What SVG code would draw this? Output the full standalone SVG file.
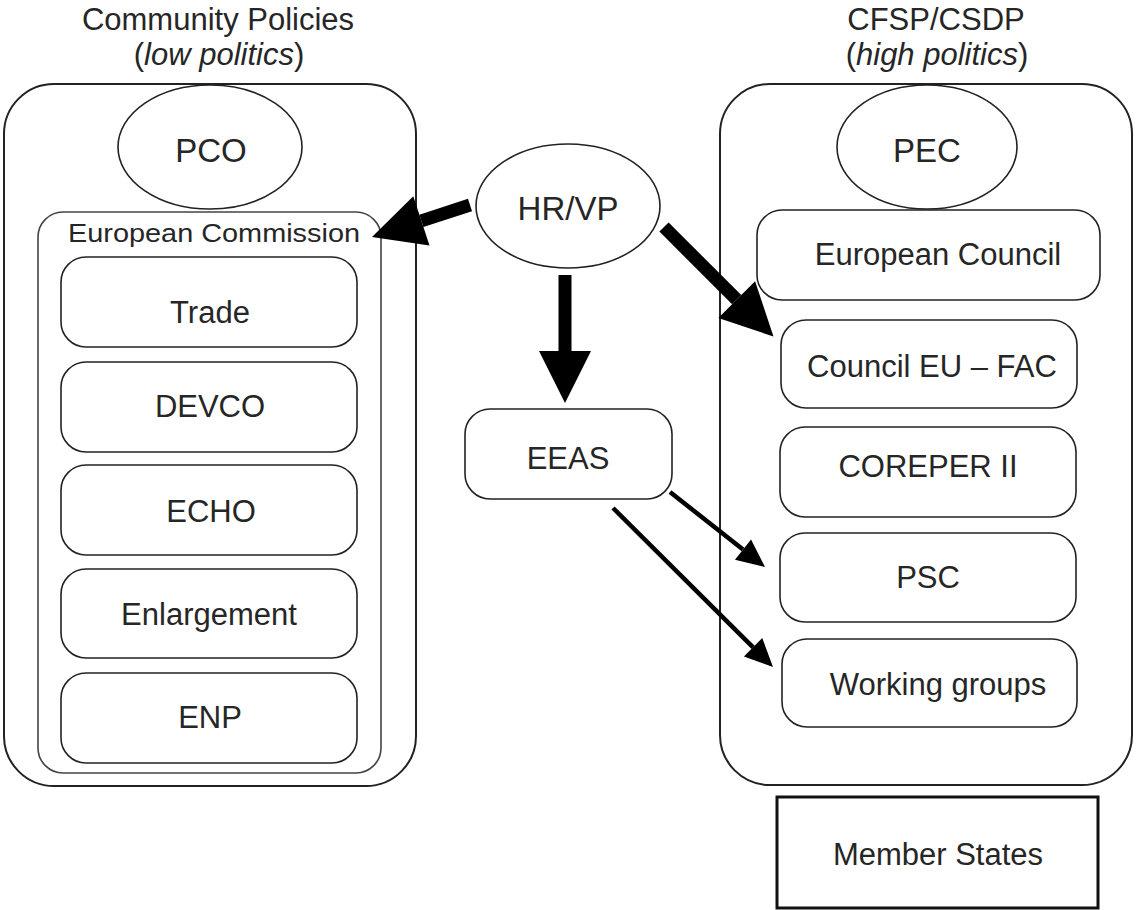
<svg xmlns="http://www.w3.org/2000/svg" width="1136" height="910" viewBox="0 0 1136 910">
<style>
  text { font-family: "Liberation Sans", Arial, sans-serif; fill: #262626; text-anchor: middle; }
  .title { font-size: 31px; }
  .lbl { font-size: 31px; }
  .big { font-size: 33px; }
  .outer { fill: #fff; stroke: #222; stroke-width: 2; }
  .inner { fill: #fff; stroke: #444; stroke-width: 1.6; }
  .box { fill: #fff; stroke: #222; stroke-width: 1.6; }
  .ell { fill: #fff; stroke: #222; stroke-width: 1.6; }
  .thick { stroke: #000; stroke-width: 13; fill: none; marker-end: url(#headBig); }
  .thin { stroke: #000; stroke-width: 4.5; fill: none; marker-end: url(#headSmall); }
</style>
<defs>
  <marker id="headBig" markerUnits="userSpaceOnUse" markerWidth="52" markerHeight="52" refX="0" refY="26" orient="auto" overflow="visible">
    <path d="M0,0 L52,26 L0,52 z" fill="#000"/>
  </marker>
  <marker id="headSmall" markerUnits="userSpaceOnUse" markerWidth="28" markerHeight="26" refX="0" refY="13" orient="auto" overflow="visible">
    <path d="M0,0 L28,13 L0,26 z" fill="#000"/>
  </marker>
</defs>
<rect width="1136" height="910" fill="#fff"/>

<g id="titles">
  <text class="title" x="218" y="30">Community Policies</text>
  <text class="title" x="219" y="65">(<tspan font-style="italic">low politics</tspan>)</text>
  <text class="title" x="936" y="30">CFSP/CSDP</text>
  <text class="title" x="937" y="65">(<tspan font-style="italic">high politics</tspan>)</text>
</g>

<g id="community-policies">
  <rect class="outer" x="4" y="84" width="412" height="702" rx="50"/>
</g>
<g id="pco">
  <ellipse class="ell" cx="210" cy="147" rx="92" ry="62"/>
  <text class="big" x="211" y="162">PCO</text>
</g>
<g id="european-commission">
  <rect class="inner" x="38" y="212" width="343" height="561" rx="25"/>
  <text x="214" y="242" font-size="26px" textLength="292" lengthAdjust="spacingAndGlyphs">European Commission</text>
</g>
<g id="trade">
  <rect class="box" x="61" y="257" width="296" height="90" rx="25"/>
  <text class="lbl" x="210" y="323">Trade</text>
</g>
<g id="devco">
  <rect class="box" x="61" y="362" width="296" height="90" rx="25"/>
  <text class="lbl" x="210" y="417">DEVCO</text>
</g>
<g id="echo">
  <rect class="box" x="61" y="465" width="296" height="90" rx="25"/>
  <text class="lbl" x="211" y="522">ECHO</text>
</g>
<g id="enlargement">
  <rect class="box" x="61" y="569" width="296" height="89" rx="25"/>
  <text class="lbl" x="209" y="625">Enlargement</text>
</g>
<g id="enp">
  <rect class="box" x="61" y="673" width="296" height="90" rx="25"/>
  <text class="lbl" x="210" y="728">ENP</text>
</g>

<g id="cfsp-csdp">
  <rect class="outer" x="720" y="84" width="412" height="701" rx="50"/>
</g>
<g id="pec">
  <ellipse class="ell" cx="927" cy="147" rx="90" ry="62"/>
  <text class="big" x="927" y="162">PEC</text>
</g>
<g id="european-council">
  <rect class="box" x="757" y="210" width="343" height="90" rx="25"/>
  <text class="lbl" x="938" y="265">European Council</text>
</g>
<g id="council-eu-fac">
  <rect class="box" x="781" y="320" width="296" height="88" rx="25"/>
  <text class="lbl" x="932" y="377">Council EU – FAC</text>
</g>
<g id="coreper-ii">
  <rect class="box" x="780" y="427" width="296" height="90" rx="25"/>
  <text class="lbl" x="928" y="477">COREPER II</text>
</g>
<g id="psc">
  <rect class="box" x="780" y="533" width="296" height="89" rx="25"/>
  <text class="lbl" x="928" y="588">PSC</text>
</g>
<g id="working-groups">
  <rect class="box" x="782" y="639" width="295" height="88" rx="25"/>
  <text class="lbl" x="938" y="695">Working groups</text>
</g>
<g id="member-states">
  <rect x="777" y="797" width="321" height="111" fill="#fff" stroke="#111" stroke-width="3"/>
  <text class="lbl" x="938" y="865">Member States</text>
</g>

<g id="hr-vp">
  <ellipse class="ell" cx="568" cy="206" rx="92" ry="62"/>
  <text class="big" x="568" y="220">HR/VP</text>
</g>
<g id="eeas">
  <rect class="box" x="465" y="409" width="207" height="90" rx="25"/>
  <text class="lbl" x="568" y="469">EEAS</text>
</g>

<g id="connectors">
  <line class="thick" x1="470" y1="205" x2="421.4" y2="220.9"/>
  <line class="thick" x1="565" y1="275" x2="565" y2="351"/>
  <line class="thick" x1="664" y1="227" x2="736.7" y2="299.7" stroke-width="15"/>
  <line class="thin" x1="670" y1="492" x2="743" y2="549.6"/>
  <line class="thin" x1="613" y1="508" x2="753.1" y2="647.3"/>
</g>
</svg>
